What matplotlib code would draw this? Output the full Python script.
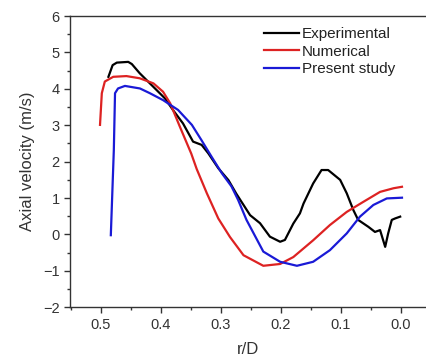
import matplotlib
matplotlib.use("Agg")
import matplotlib.pyplot as plt
from matplotlib.ticker import MultipleLocator

plt.rcParams['font.family'] = ['Liberation Sans', 'DejaVu Sans']

# Experimental
exp_x = [0.487, 0.480, 0.473, 0.454, 0.448, 0.435, 0.421, 0.407, 0.393, 0.3795,
         0.3628, 0.346, 0.3317, 0.3207, 0.304, 0.287, 0.274, 0.251, 0.2345, 0.218,
         0.201, 0.193, 0.179, 0.168, 0.162, 0.146, 0.132, 0.121, 0.101, 0.090,
         0.079, 0.071, 0.054, 0.043, 0.0345, 0.026, 0.021, 0.015, 0.0095, 0.001]
exp_y = [4.33, 4.65, 4.72, 4.74, 4.68, 4.43, 4.20, 3.97, 3.74, 3.42,
         3.05, 2.55, 2.46, 2.23, 1.82, 1.49, 1.12, 0.53, 0.31, -0.06,
         -0.20, -0.15, 0.30, 0.58, 0.85, 1.40, 1.77, 1.77, 1.50, 1.13,
         0.67, 0.40, 0.21, 0.07, 0.12, -0.34, 0.03, 0.40, 0.44, 0.49]

# Numerical
num_x = [0.501, 0.498, 0.493, 0.479, 0.457, 0.435, 0.412, 0.396, 0.384, 0.368,
         0.349, 0.340, 0.323, 0.304, 0.2845, 0.262, 0.229, 0.201, 0.179, 0.146,
         0.118, 0.090, 0.062, 0.0345, 0.012, -0.002]
num_y = [3.01, 3.88, 4.20, 4.33, 4.35, 4.29, 4.15, 3.92, 3.60, 2.96,
         2.22, 1.80, 1.13, 0.44, -0.07, -0.57, -0.86, -0.81, -0.62, -0.16,
         0.26, 0.62, 0.90, 1.17, 1.27, 1.31]

# Present study
pre_x = [0.483, 0.478, 0.476, 0.471, 0.4595, 0.4345, 0.418, 0.396, 0.371, 0.348,
         0.332, 0.315, 0.298, 0.282, 0.271, 0.257, 0.229, 0.201, 0.173, 0.146,
         0.118, 0.090, 0.068, 0.0457, 0.0233, -0.002]
pre_y = [-0.02, 2.32, 3.88, 4.01, 4.08, 4.01, 3.88, 3.69, 3.42, 3.01,
         2.59, 2.13, 1.68, 1.32, 0.95, 0.40, -0.47, -0.75, -0.86, -0.75,
         -0.43, 0.03, 0.49, 0.81, 0.99, 1.01]

labels = ["Experimental", "Numerical", "Present study"]
xticks = [0.5, 0.4, 0.3, 0.2, 0.1, 0.0]
yticks = [-2, -1, 0, 1, 2, 3, 4, 5, 6]

W, H = 426, 358
fig = plt.figure(figsize=(W / 100, H / 100), dpi=100)
ax = fig.add_axes([70 / W, 1 - 307.3 / H, 356 / W, 291.3 / H])

ax.plot(exp_x, exp_y, color='black', lw=1.6, label=labels[0])
ax.plot(num_x, num_y, color='#dd2222', lw=1.6, label=labels[1])
ax.plot(pre_x, pre_y, color='#1a1ad6', lw=1.6, label=labels[2])

ax.set_xlim(0.551, -0.042)
ax.set_ylim(-2, 6)
ax.set_xticks(xticks)
ax.set_xticklabels([f"{v:.1f}" for v in xticks])
ax.set_yticks(yticks)
ax.xaxis.set_minor_locator(MultipleLocator(0.05))
ax.yaxis.set_minor_locator(MultipleLocator(0.5))

tc = '#333333'
for s in ['left', 'bottom', 'top']:
    ax.spines[s].set_color(tc)
    ax.spines[s].set_linewidth(1.0)
ax.spines['right'].set_visible(False)
ax.tick_params(which='major', direction='out', length=4.5, width=1.0, color=tc,
               labelsize=10.5, labelcolor=tc, pad=3)
ax.tick_params(which='minor', direction='out', length=2.5, width=1.0, color=tc)
ax.tick_params(top=False, right=False, which='both')

ax.set_xlabel("r/D", fontsize=12, color=tc, labelpad=7.5)
ax.set_ylabel("Axial velocity (m/s)", fontsize=12, color=tc, labelpad=6)

leg = ax.legend(loc='upper left', bbox_to_anchor=(264 / W, 1 - 27 / H),
                bbox_transform=fig.transFigure, frameon=False, fontsize=11,
                handlelength=2.3, handletextpad=0.2, labelspacing=0.23,
                borderpad=0, borderaxespad=0)
for t in leg.get_texts():
    t.set_color('#222222')

fig.savefig("out.png", dpi=100)
